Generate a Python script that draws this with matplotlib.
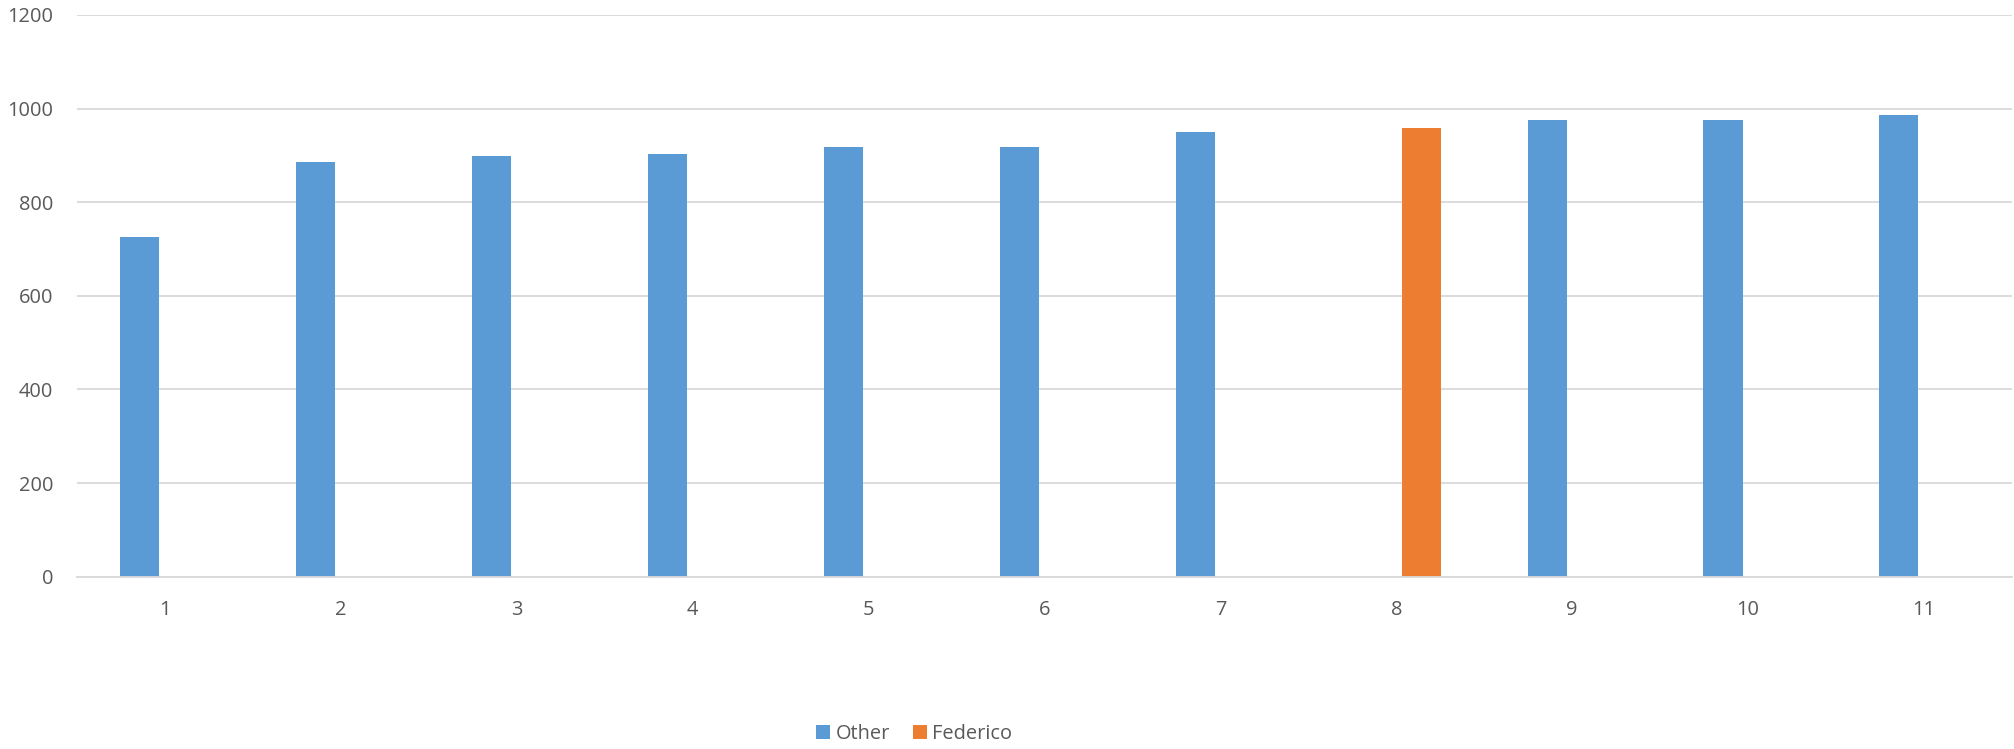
import numpy as np
import matplotlib
matplotlib.use("Agg")
import matplotlib.pyplot as plt
from matplotlib.patches import Patch

# Data
categories = ["1", "2", "3", "4", "5", "6", "7", "8", "9", "10", "11"]
other = [726, 887, 899, 904, 917, 917, 951, None, 975, 976, 986]
federico = [None, None, None, None, None, None, None, 958, None, None, None]
y_ticks = [0, 200, 400, 600, 800, 1000, 1200]

BLUE = "#5B9BD5"
ORANGE = "#ED7D31"
GRID = "#D9D9D9"
TEXT = "#595959"

plt.rcParams["font.family"] = ["Open Sans", "DejaVu Sans"]

fig = plt.figure(figsize=(20.14, 7.49), dpi=100)
ax = fig.add_axes([77 / 2014, 172.3 / 749, (2012 - 77) / 2014, (576.7 - 15) / 749])

x = np.arange(1, len(categories) + 1)
other_vals = np.array([np.nan if v is None else v for v in other], dtype=float)
fed_vals = np.array([np.nan if v is None else v for v in federico], dtype=float)

width = 0.222
offset = 0.143
ax.bar(x - offset, other_vals, width=width, color=BLUE, zorder=3)
ax.bar(x + offset, fed_vals, width=width, color=ORANGE, zorder=3)

ax.set_xlim(0.5, len(categories) + 0.5)
ax.set_ylim(0, 1200)
ax.set_yticks(y_ticks)
ax.set_yticklabels([str(t) for t in y_ticks])
ax.set_xticks(x)
ax.set_xticklabels(categories)

ax.grid(axis="y", color=GRID, linewidth=1.3, zorder=0)
for s in ["top", "right", "left"]:
    ax.spines[s].set_visible(False)
ax.spines["bottom"].set_color(GRID)
ax.spines["bottom"].set_linewidth(1.3)
ax.spines["bottom"].set_zorder(4)

ax.tick_params(axis="both", length=0, labelsize=14.4, labelcolor=TEXT)
ax.tick_params(axis="y", pad=17)
ax.tick_params(axis="x", pad=17)

handles = [Patch(facecolor=BLUE, label="Other"), Patch(facecolor=ORANGE, label="Federico")]
fig.legend(handles=handles, loc="center", bbox_to_anchor=(914 / 2014, 1 - 734 / 749),
           ncol=2, frameon=False, fontsize=14.4, labelcolor=TEXT,
           handlelength=0.7, handleheight=0.7, handletextpad=0.25, columnspacing=1.15)

fig.savefig("out.png", dpi=100, facecolor="white")
